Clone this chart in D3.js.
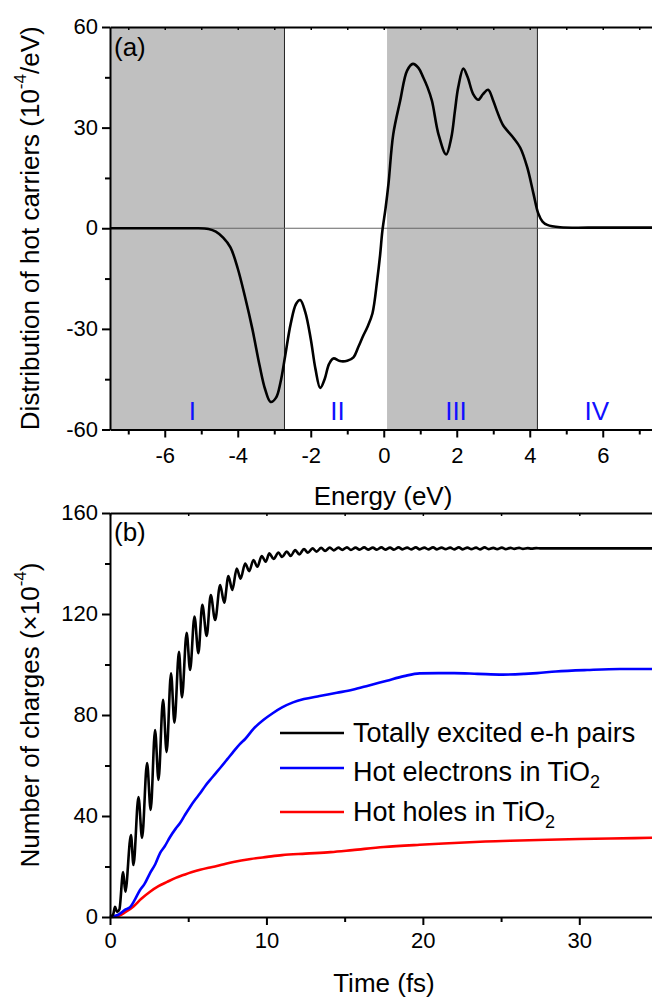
<!DOCTYPE html>
<html>
<head>
<meta charset="utf-8">
<script src="https://cdn.jsdelivr.net/npm/d3@7"></script>
<style>
  html, body { margin: 0; padding: 0; background: #fff; }
  svg { display: block; font-family: "Liberation Sans", Arial, sans-serif; }
</style>
</head>
<body>
<svg id="chart" width="652" height="999"></svg>
<script>
// ---------- Panel (a) data ----------
const energy = [-7.5, -6, -5.2, -4.8, -4.6, -4.4, -4.2, -4.0, -3.8, -3.6, -3.4, -3.25, -3.1, -2.95, -2.83, -2.7, -2.55, -2.4, -2.29, -2.15, -2.0, -1.87, -1.74, -1.62, -1.5, -1.38, -1.2, -1.0, -0.83, -0.7, -0.56, -0.45, -0.31, -0.18, -0.1, -0.04, 0.05, 0.13, 0.26, 0.45, 0.64, 0.8, 0.95, 1.08, 1.2, 1.32, 1.5, 1.71, 1.85, 1.95, 2.04, 2.18, 2.3, 2.45, 2.59, 2.72, 2.86, 3.0, 3.1, 3.27, 3.55, 3.74, 3.93, 4.1, 4.23, 4.35, 4.48, 4.83, 6, 7.5];
const distribution = [0, 0, 0, -0.2, -1, -2.8, -5.7, -12, -20.5, -30, -41, -48, -51.8, -50.5, -46, -38, -28.5, -22.5, -21.4, -25, -33, -42, -47.6, -45, -40.5, -38.8, -39.6, -39.5, -38.5, -35.5, -32, -29.5, -25.4, -15.5, -8, -1, 6, 13.3, 28, 38, 47, 49, 47.8, 45, 42, 38, 28, 22, 27, 35, 42, 47.6, 45, 40, 38.3, 40, 41.3, 38, 35, 30.7, 27, 24, 18.2, 10.4, 4.5, 2, 1, 0.3, 0.2, 0.2];
const regionBounds = [-7.5, -2.72, 0.09, 4.21, 7.5];
const regionShaded = [true, false, true, false];
const regionLabels = ["I", "II", "III", "IV"];
const regionLabelE = [-5.24, -1.27, 1.98, 5.84];
const energyTicks = [-6, -4, -2, 0, 2, 4, 6];
const energyMinor = [-7, -5, -3, -1, 1, 3, 5, 7];
const distTicks = [-60, -30, 0, 30, 60];
const distMinor = [-45, -15, 15, 45];

// ---------- Panel (b) data ----------
const timeBlack = [0, 0.2, 0.32, 0.45, 0.6, 0.84, 0.98, 1.34, 1.5, 1.82, 2.05, 2.37, 2.6, 2.88, 3.1, 3.39, 3.62, 3.9, 4.12, 4.41, 4.6, 4.9, 5.12, 5.4, 5.65, 5.9, 6.18, 6.44, 6.72, 7.04, 7.3, 7.57, 7.82, 8.1, 8.35, 8.64, 8.9, 9.17, 9.42, 9.7, 9.95, 10.19, 10.45, 10.77, 11.0, 11.3, 11.55, 11.84, 12.1, 12.4, 12.65, 12.95, 13.2, 13.5, 13.75, 14.05, 14.3, 14.6, 14.85, 15.15, 15.4, 15.7, 15.95, 16.25, 16.5, 16.8, 17.05, 17.35, 17.6, 17.9, 18.15, 18.45, 18.7, 19.0, 19.25, 19.55, 19.8, 20.1, 20.35, 20.65, 20.9, 21.2, 21.45, 21.75, 22.0, 22.3, 22.55, 22.85, 23.1, 23.4, 23.65, 23.95, 24.2, 24.5, 24.75, 25.05, 25.3, 25.6, 25.85, 26.15, 26.4, 26.7, 26.95, 27.25, 27.5, 28.5, 30, 32, 35];
const pairs = [0, 1, 4, 2, 3, 17.8, 10, 32.5, 20.6, 47.5, 31.3, 61, 42.4, 74, 54.3, 86, 65.3, 96.5, 77, 105, 87, 112.6, 97.8, 119, 104.5, 123.6, 111.3, 127.5, 117.6, 131.5, 124.5, 135, 129.5, 138, 134, 140, 137, 141.4, 138.7, 143, 140.7, 144, 141.8, 144.3, 142.6, 144.7, 143, 145.3, 143.6, 145.7, 144.3, 146, 144.7, 146.2, 145, 146.3, 145.2, 146.3, 145.4, 146.4, 145.4, 146.3, 145.5, 146.4, 145.5, 146.3, 145.5, 146.4, 145.5, 146.3, 145.5, 146.4, 145.6, 146.3, 145.6, 146.4, 145.6, 146.3, 145.6, 146.4, 145.6, 146.3, 145.7, 146.3, 145.6, 146.4, 145.6, 146.3, 145.7, 146.3, 145.6, 146.4, 145.7, 146.2, 145.7, 146.3, 145.7, 146.2, 145.8, 146.2, 145.8, 146.1, 145.9, 146.1, 146, 146, 146, 146, 146];
const timeBlue = [0, 0.5, 1.0, 1.3, 1.6, 1.92, 2.2, 2.56, 2.9, 3.2, 3.5, 3.84, 4.2, 4.48, 4.8, 5.12, 5.45, 5.76, 6.1, 6.4, 6.7, 7.04, 7.5, 7.89, 8.3, 8.64, 9.17, 9.8, 10.4, 11.0, 11.7, 12.4, 13.4, 14.5, 15.5, 16.5, 17.7, 18.8, 19.8, 21, 22, 23.5, 25.1, 26.5, 27.3, 28.5, 30.5, 32.6, 35];
const electrons = [0, 0.8, 3, 4, 7, 10.7, 13, 17.4, 21, 25.3, 28, 31.7, 35, 37.2, 40.5, 43.6, 46.5, 49, 52, 54.3, 56.5, 59, 62.5, 65.5, 68.5, 70.5, 74.5, 78, 80.7, 83, 85, 86.3, 87.5, 88.8, 90, 91.6, 93.6, 95.4, 96.5, 96.6, 96.6, 96.3, 96, 96.3, 96.6, 97.2, 97.8, 98.2, 98.2];
const timeRed = [0, 0.5, 1.0, 1.5, 2.0, 2.56, 3.1, 3.65, 4.2, 4.69, 5.2, 5.76, 6.3, 6.83, 7.4, 7.89, 9.0, 10.04, 11, 12.5, 14.1, 15.5, 17.5, 19.8, 22, 24, 26.2, 28, 30, 32, 35];
const holes = [0, 0.3, 2, 4.2, 7.2, 10, 12.2, 13.9, 15.5, 16.6, 17.7, 18.7, 19.5, 20.2, 21.1, 21.8, 23, 23.8, 24.5, 25.1, 25.7, 26.5, 27.7, 28.6, 29.3, 29.9, 30.3, 30.6, 30.9, 31.1, 31.4];
const timeTicks = [0, 10, 20, 30];
const timeMinor = [5, 15, 25, 35];
const chargeTicks = [0, 40, 80, 120, 160];
const chargeMinor = [20, 60, 100, 140];
const seriesNames = ["Totally excited e-h pairs", "Hot electrons in TiO", "Hot holes in TiO"];
const seriesSub = ["", "2", "2"];
const seriesColors = ["#000000", "#0000ff", "#ff0000"];

// ---------- drawing ----------
const svg = d3.select("#chart");
const L = 110, R = 657.5;
const TICK = 22, TITLE = 26;
const FONT = "'Liberation Sans', Arial, sans-serif";
const fmt = d => String(d); // plain hyphen-minus as in the original

function drawFrame(g, x, y, xt, xm, yt, ym, xPad) {
  const [y0, y1] = y.range();
  const bx = g.append("g").attr("transform", `translate(0,${y0})`)
    .call(d3.axisBottom(x).tickValues(xt).tickSize(8).tickSizeOuter(0).tickPadding(xPad).tickFormat(fmt));
  bx.select(".domain").attr("stroke-width", 2);
  bx.selectAll(".tick line").attr("stroke-width", 2);
  bx.selectAll("text").attr("font-size", TICK).attr("font-family", FONT);
  const bxm = g.append("g").attr("transform", `translate(0,${y0})`)
    .call(d3.axisBottom(x).tickValues(xm).tickSize(5).tickFormat(""));
  bxm.select(".domain").remove();
  bxm.selectAll(".tick line").attr("stroke-width", 2);
  const tx = g.append("g").attr("transform", `translate(0,${y1})`)
    .call(d3.axisTop(x).tickValues(xt.concat(xm)).tickSize(-3).tickSizeOuter(0).tickFormat(""));
  tx.select(".domain").attr("stroke-width", 2);
  tx.selectAll(".tick line").attr("stroke-width", 1.5);
  const ly = g.append("g").attr("transform", `translate(${L},0)`)
    .call(d3.axisLeft(y).tickValues(yt).tickSize(8).tickSizeOuter(0).tickPadding(4).tickFormat(fmt));
  ly.select(".domain").attr("stroke-width", 2);
  ly.selectAll(".tick line").attr("stroke-width", 2);
  ly.selectAll("text").attr("font-size", TICK).attr("font-family", FONT).attr("dy", "0.3em");
  const lym = g.append("g").attr("transform", `translate(${L},0)`)
    .call(d3.axisLeft(y).tickValues(ym).tickSize(5).tickFormat(""));
  lym.select(".domain").remove();
  lym.selectAll(".tick line").attr("stroke-width", 2);
}

// ===== Panel (a) =====
const xa = d3.scaleLinear().domain([-7.5, 7.5]).range([L, R]);
const ya = d3.scaleLinear().domain([-60, 60]).range([429.5, 27]);
const ga = svg.append("g");

regionShaded.forEach((s, i) => {
  if (!s) return;
  ga.append("rect")
    .attr("x", xa(regionBounds[i])).attr("y", ya(60))
    .attr("width", xa(regionBounds[i + 1]) - xa(regionBounds[i]))
    .attr("height", ya(-60) - ya(60))
    .attr("fill", "#c0c0c0");
  ga.append("line")
    .attr("x1", xa(regionBounds[i + 1])).attr("x2", xa(regionBounds[i + 1]))
    .attr("y1", ya(60)).attr("y2", ya(-60))
    .attr("stroke", "#222").attr("stroke-width", 1);
});
ga.append("line")
  .attr("x1", xa(-7.5)).attr("x2", xa(7.5)).attr("y1", ya(0)).attr("y2", ya(0))
  .attr("stroke", "#666").attr("stroke-width", 1.2);

regionLabels.forEach((t, i) => {
  ga.append("text").attr("x", xa(regionLabelE[i])).attr("y", 420)
    .attr("text-anchor", "middle").attr("font-size", 26).attr("fill", "#1010ff").text(t);
});

const lineA = d3.line().x((d, i) => xa(energy[i])).y(d => ya(d)).curve(d3.curveCatmullRom.alpha(0.5));
ga.append("path").datum(distribution).attr("d", lineA)
  .attr("fill", "none").attr("stroke", "#000").attr("stroke-width", 2.6).attr("stroke-linejoin", "round");

drawFrame(ga, xa, ya, energyTicks, energyMinor, distTicks, distMinor, 9.4);

ga.append("text").attr("x", 114).attr("y", 56).attr("font-size", 26).text("(a)");
ga.append("text").attr("x", 383).attr("y", 505).attr("text-anchor", "middle").attr("font-size", TITLE).text("Energy (eV)");
const ta = ga.append("text").attr("transform", `translate(39,${(ya(60) + ya(-60)) / 2}) rotate(-90)`)
  .attr("text-anchor", "middle").attr("font-size", TITLE);
ta.append("tspan").text("Distribution of hot carriers (10");
ta.append("tspan").attr("font-size", 17).attr("dy", "-0.75em").text("-4");
ta.append("tspan").attr("dy", "0.5em").text("/eV)");

// ===== Panel (b) =====
const xb = d3.scaleLinear().domain([0, 35]).range([L, R]);
const yb = d3.scaleLinear().domain([0, 160]).range([917, 513]);
const gb = svg.append("g");

const mk = (ts) => d3.line().x((d, i) => xb(ts[i])).y(d => yb(d)).curve(d3.curveMonotoneX);
gb.append("path").datum(holes).attr("d", mk(timeRed))
  .attr("fill", "none").attr("stroke", seriesColors[2]).attr("stroke-width", 2.6);
gb.append("path").datum(electrons).attr("d", mk(timeBlue))
  .attr("fill", "none").attr("stroke", seriesColors[1]).attr("stroke-width", 2.6);
gb.append("path").datum(pairs).attr("d", mk(timeBlack))
  .attr("fill", "none").attr("stroke", seriesColors[0]).attr("stroke-width", 2.6).attr("stroke-linejoin", "round");

drawFrame(gb, xb, yb, timeTicks, timeMinor, chargeTicks, chargeMinor, 7.4);

gb.append("text").attr("x", 114).attr("y", 541).attr("font-size", 26).text("(b)");
gb.append("text").attr("x", 384).attr("y", 992).attr("text-anchor", "middle").attr("font-size", TITLE).text("Time (fs)");
const tb = gb.append("text").attr("transform", `translate(39,${(yb(0) + yb(160)) / 2}) rotate(-90)`)
  .attr("text-anchor", "middle").attr("font-size", TITLE);
tb.append("tspan").text("Number of charges (\u00d710");
tb.append("tspan").attr("font-size", 17).attr("dy", "-0.75em").text("-4");
tb.append("tspan").attr("dy", "0.5em").text(")");

// legend
const legLineY = [733, 768, 812];
const legTextY = [742, 781, 821];
seriesNames.forEach((n, i) => {
  gb.append("line").attr("x1", 280).attr("x2", 344).attr("y1", legLineY[i]).attr("y2", legLineY[i])
    .attr("stroke", seriesColors[i]).attr("stroke-width", 2.6);
  const t = gb.append("text").attr("x", 353).attr("y", legTextY[i]).attr("font-size", 27);
  t.append("tspan").text(n);
  if (seriesSub[i]) t.append("tspan").attr("font-size", 18).attr("dy", "0.4em").text(seriesSub[i]);
});
</script>
</body>
</html>
